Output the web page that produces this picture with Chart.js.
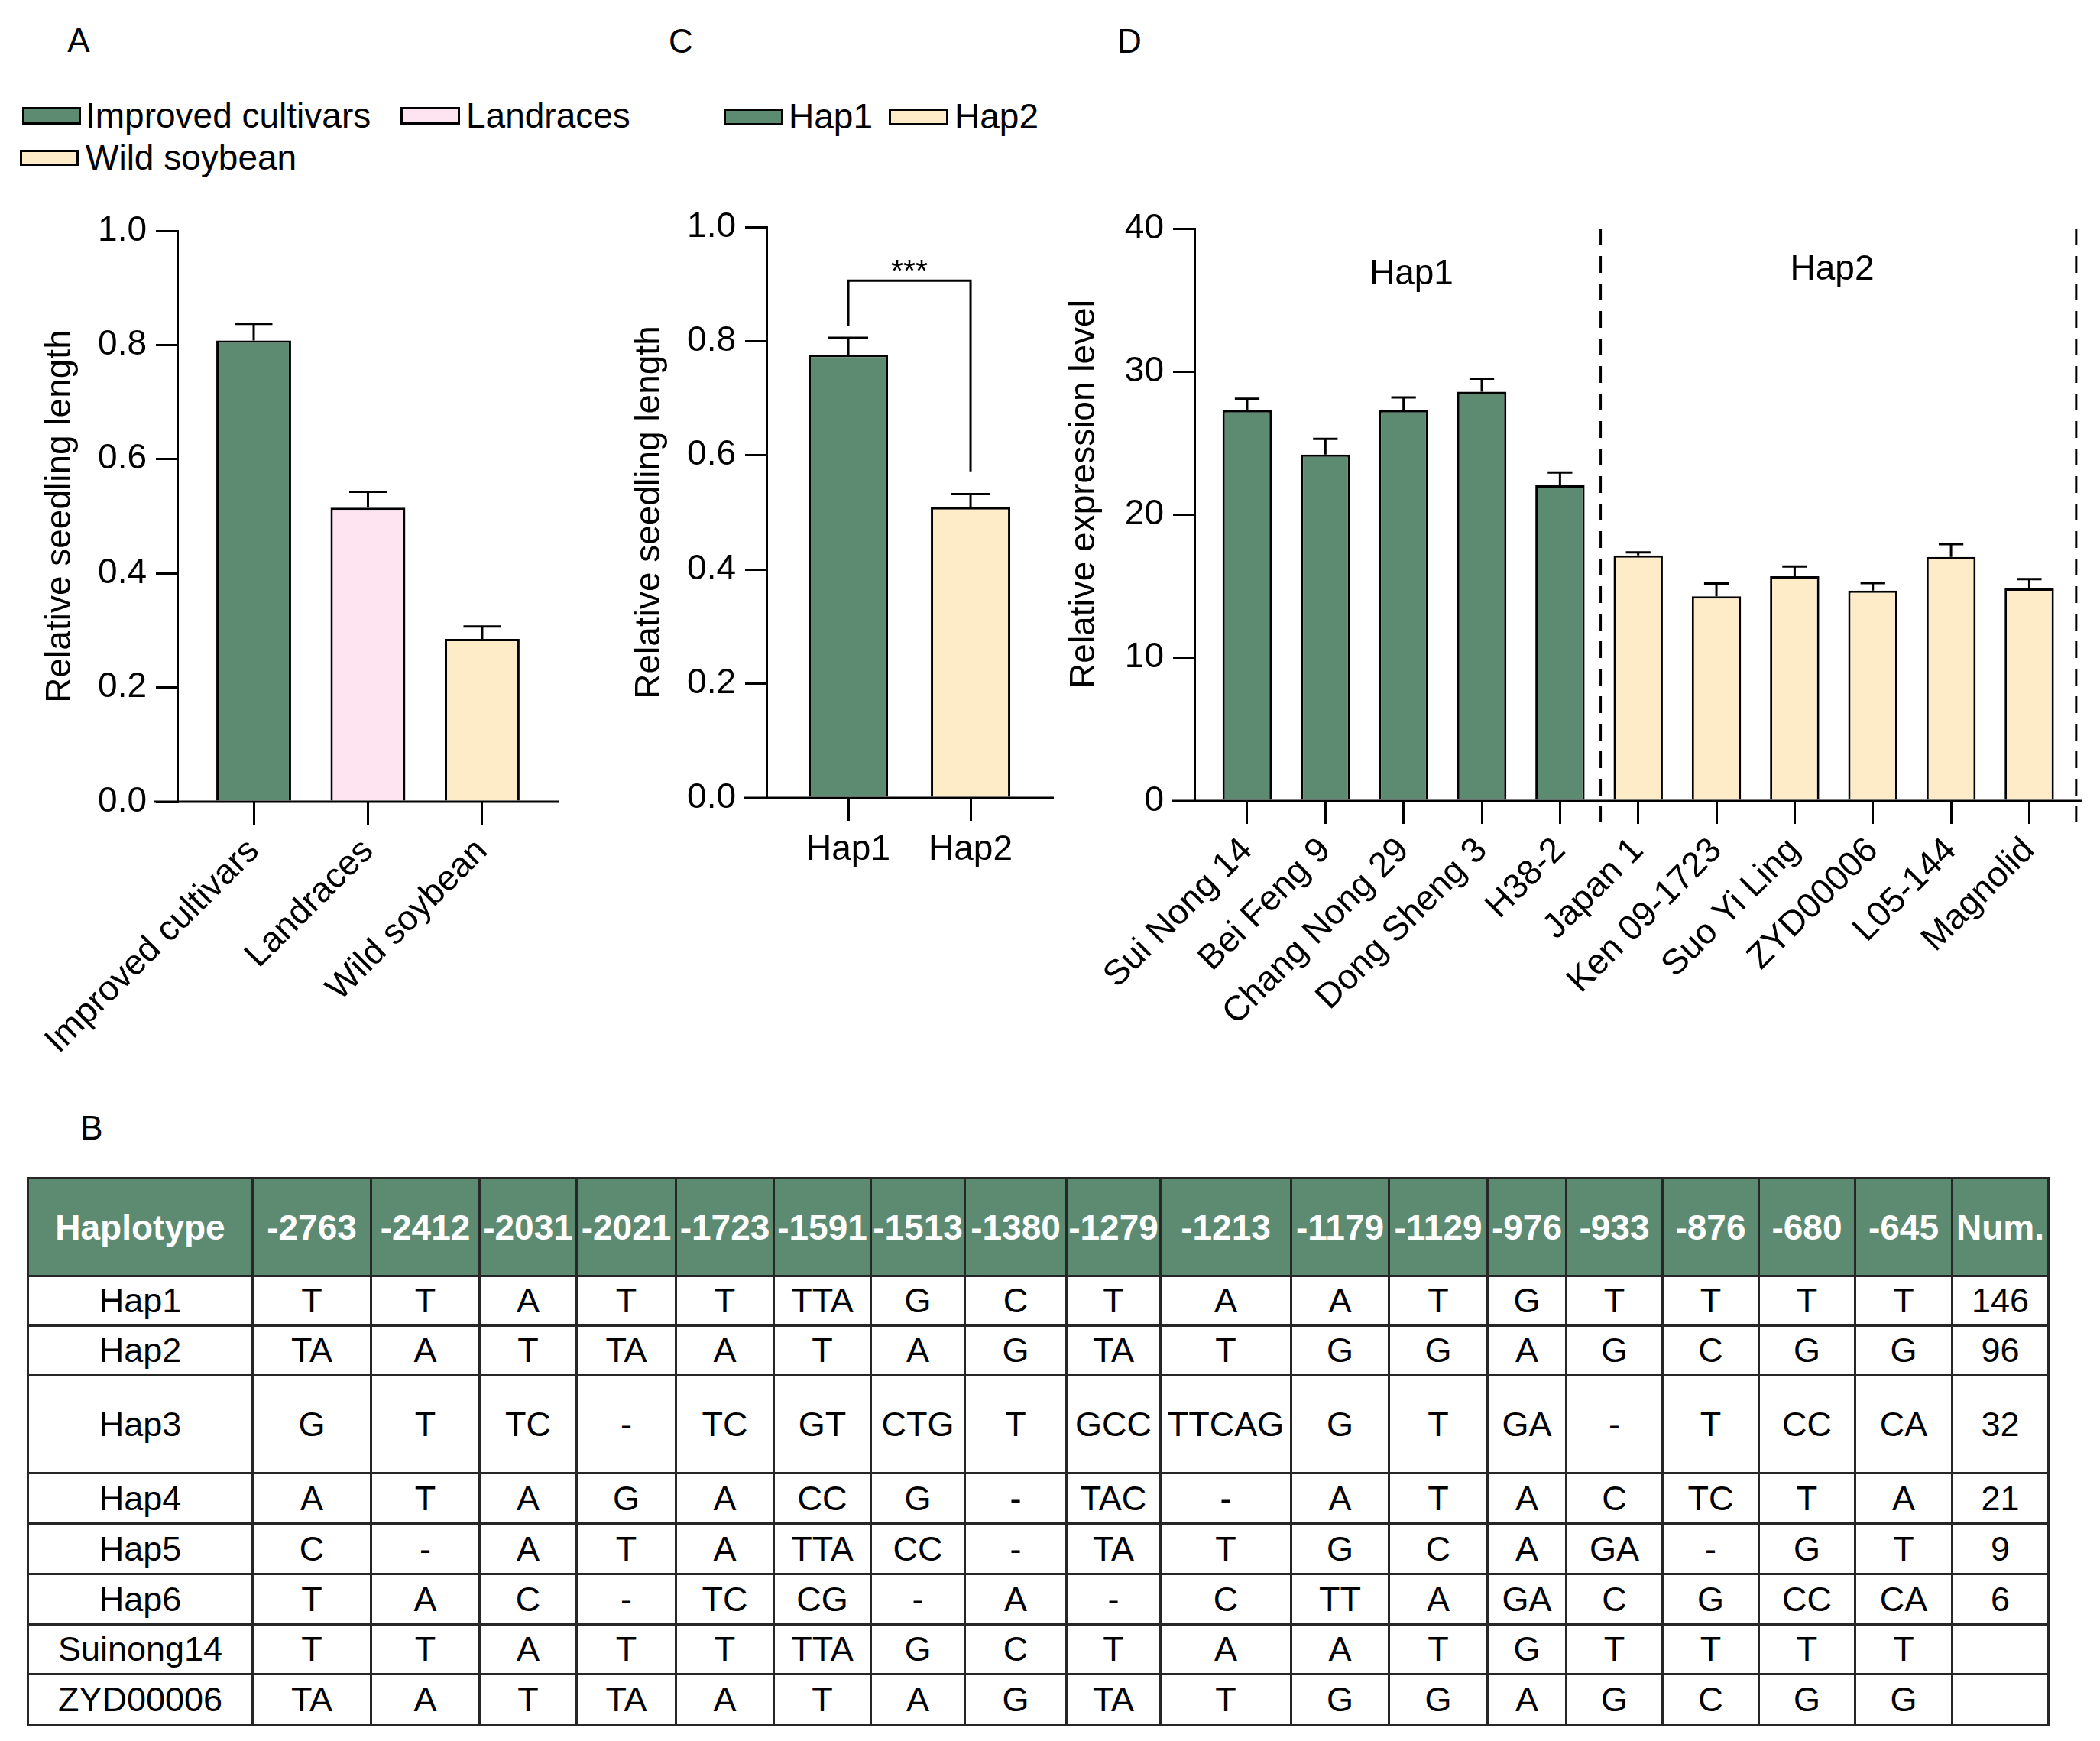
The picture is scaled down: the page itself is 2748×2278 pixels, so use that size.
<!DOCTYPE html>
<html><head><meta charset="utf-8">
<script src="https://cdn.jsdelivr.net/npm/chart.js@4.4.1/dist/chart.umd.min.js"></script>
<style>
html,body{margin:0;padding:0;background:#fff;}
body{width:2748px;height:2278px;position:relative;overflow:hidden;font-family:"Liberation Sans",Arial,sans-serif;color:#000;}
.plabel{position:absolute;font-size:44px;line-height:1;transform:translate(-50%,-50%);}
.sw{position:absolute;box-sizing:border-box;border:3px solid #000;}
.lt{position:absolute;font-size:46px;line-height:1;white-space:nowrap;transform:translateY(-50%);}
canvas{position:absolute;}
#tbl{position:absolute;left:35px;top:1540px;border-collapse:collapse;table-layout:fixed;font-size:45px;}
#tbl td,#tbl th{border:3px solid #262626;text-align:center;vertical-align:middle;padding:0;overflow:hidden;white-space:nowrap;}
#tbl th{background:#5d8b72;color:#fff;font-weight:bold;font-size:46px;}
</style></head>
<body>
<div class="plabel" style="left:103px;top:53px">A</div>
<div class="plabel" style="left:891px;top:54px">C</div>
<div class="plabel" style="left:1478px;top:54px">D</div>
<div class="plabel" style="left:120px;top:1476px">B</div>

<div class="sw" style="left:29px;top:140px;width:77px;height:23px;background:#5d8b72"></div>
<div class="lt" style="left:112px;top:151px">Improved cultivars</div>
<div class="sw" style="left:524px;top:140px;width:78px;height:23px;background:#fde4f0"></div>
<div class="lt" style="left:610px;top:151px">Landraces</div>
<div class="sw" style="left:26px;top:196px;width:77px;height:21px;background:#fdecc7"></div>
<div class="lt" style="left:112px;top:206px">Wild soybean</div>

<div class="sw" style="left:947px;top:142px;width:78px;height:22px;background:#5d8b72"></div>
<div class="lt" style="left:1032px;top:152px">Hap1</div>
<div class="sw" style="left:1163px;top:142px;width:78px;height:22px;background:#fdecc7"></div>
<div class="lt" style="left:1249px;top:152px">Hap2</div>

<canvas id="cA" width="760" height="1200" style="left:0px;top:250px"></canvas>
<canvas id="cC" width="636" height="1205" style="left:771px;top:245px"></canvas>
<canvas id="cD" width="1417" height="1200" style="left:1331px;top:250px"></canvas>

<table id="tbl"></table>

<script>
// ---------- data ----------
const aCategories = ['Improved cultivars', 'Landraces', 'Wild soybean'];
const aValues = [0.808, 0.515, 0.285];
const aErrors = [0.029, 0.028, 0.022];
const aColors = ['#5d8b72', '#fde4f0', '#fdecc7'];

const cCategories = ['Hap1', 'Hap2'];
const cValues = [0.776, 0.509];
const cErrors = [0.030, 0.023];
const cColors = ['#5d8b72', '#fdecc7'];
const cBracket = {left: 0.826, top: 0.906, right: 0.572, star: 0.92, text: '***'};

const dCategories = ['Sui Nong 14', 'Bei Feng 9', 'Chang Nong 29', 'Dong Sheng 3', 'H38-2',
  'Japan 1', 'Ken 09-1723', 'Suo Yi Ling', 'ZYD00006', 'L05-144', 'Magnolid'];
const dValues = [27.3, 24.2, 27.3, 28.6, 22.05, 17.15, 14.3, 15.7, 14.7, 17.05, 14.85];
const dErrors = [0.8, 1.1, 0.9, 0.9, 0.9, 0.22, 0.9, 0.68, 0.52, 0.9, 0.65];
const dGroupOf = ['Hap1', 'Hap1', 'Hap1', 'Hap1', 'Hap1', 'Hap2', 'Hap2', 'Hap2', 'Hap2', 'Hap2', 'Hap2'];
const dGroupColors = {Hap1: '#5d8b72', Hap2: '#fdecc7'};
const dGroupLabels = [{text: 'Hap1', x: 2.1, y: 36.8}, {text: 'Hap2', x: 7.48, y: 37.1}];
const dDividers = [4.52, 10.6];

const tableHeaders = ['Haplotype', '-2763', '-2412', '-2031', '-2021', '-1723', '-1591', '-1513', '-1380', '-1279',
  '-1213', '-1179', '-1129', '-976', '-933', '-876', '-680', '-645', 'Num.'];
const tableRows = [
  ['Hap1', 'T', 'T', 'A', 'T', 'T', 'TTA', 'G', 'C', 'T', 'A', 'A', 'T', 'G', 'T', 'T', 'T', 'T', '146'],
  ['Hap2', 'TA', 'A', 'T', 'TA', 'A', 'T', 'A', 'G', 'TA', 'T', 'G', 'G', 'A', 'G', 'C', 'G', 'G', '96'],
  ['Hap3', 'G', 'T', 'TC', '-', 'TC', 'GT', 'CTG', 'T', 'GCC', 'TTCAG', 'G', 'T', 'GA', '-', 'T', 'CC', 'CA', '32'],
  ['Hap4', 'A', 'T', 'A', 'G', 'A', 'CC', 'G', '-', 'TAC', '-', 'A', 'T', 'A', 'C', 'TC', 'T', 'A', '21'],
  ['Hap5', 'C', '-', 'A', 'T', 'A', 'TTA', 'CC', '-', 'TA', 'T', 'G', 'C', 'A', 'GA', '-', 'G', 'T', '9'],
  ['Hap6', 'T', 'A', 'C', '-', 'TC', 'CG', '-', 'A', '-', 'C', 'TT', 'A', 'GA', 'C', 'G', 'CC', 'CA', '6'],
  ['Suinong14', 'T', 'T', 'A', 'T', 'T', 'TTA', 'G', 'C', 'T', 'A', 'A', 'T', 'G', 'T', 'T', 'T', 'T', ''],
  ['ZYD00006', 'TA', 'A', 'T', 'TA', 'A', 'T', 'A', 'G', 'TA', 'T', 'G', 'G', 'A', 'G', 'C', 'G', 'G', '']
];

// ---------- layout (not data) ----------
const colWidths = [294,155,142,127,130,128,127,123,133,123,171,128,129,103,126,126,126,127,126];
const headerHeight = 128;
const rowHeights = [65,65,128,66,66,66,65,67];

// ---------- table ----------
(function(){
  const t = document.getElementById('tbl');
  let html = '<colgroup>' + colWidths.map(w => '<col style="width:' + w + 'px">').join('') + '</colgroup>';
  html += '<tr style="height:' + headerHeight + 'px">' + tableHeaders.map(h => '<th>' + h + '</th>').join('') + '</tr>';
  tableRows.forEach((r, i) => {
    html += '<tr style="height:' + rowHeights[i] + 'px">' + r.map(c => '<td>' + c + '</td>').join('') + '</tr>';
  });
  t.innerHTML = html;
  t.style.width = colWidths.reduce((a, b) => a + b, 0) + 'px';
})();

// ---------- charts ----------
Chart.defaults.font.family = '"Liberation Sans", Arial, sans-serif';
Chart.defaults.font.size = 46;
Chart.defaults.color = '#000';

const gpPlugin = {
  id: 'gp',
  afterDatasetsDraw(chart, args, opts) {
    const ctx = chart.ctx, xs = chart.scales.x, ys = chart.scales.y, ca = chart.chartArea;
    const meta = chart.getDatasetMeta(0);
    const ds = chart.data.datasets[0].data;
    ctx.save();
    ctx.strokeStyle = '#000';
    ctx.lineWidth = 3;
    ctx.lineCap = 'butt';
    if (opts.dividers) {
      ctx.save();
      ctx.setLineDash([22, 14]);
      opts.dividers.forEach(d => {
        const px = xs.getPixelForValue(d);
        ctx.beginPath(); ctx.moveTo(px, ca.top); ctx.lineTo(px, ca.bottom + 28); ctx.stroke();
      });
      ctx.restore();
    }
    meta.data.forEach((bar, i) => {
      const v = ds[i].y;
      const yTop = ys.getPixelForValue(v);
      const yErr = ys.getPixelForValue(v + opts.errors[i]);
      const half = bar.width / 4;
      ctx.beginPath();
      ctx.moveTo(bar.x, yTop); ctx.lineTo(bar.x, yErr);
      ctx.moveTo(bar.x - half, yErr); ctx.lineTo(bar.x + half, yErr);
      ctx.stroke();
    });
    const y0 = ys.getPixelForValue(0);
    ctx.beginPath(); ctx.moveTo(ca.left - 30, y0); ctx.lineTo(ca.right, y0); ctx.stroke();
    if (opts.bracket) {
      const b = opts.bracket;
      const x0 = xs.getPixelForValue(0), x1 = xs.getPixelForValue(1);
      ctx.beginPath();
      ctx.moveTo(x0, ys.getPixelForValue(b.left));
      ctx.lineTo(x0, ys.getPixelForValue(b.top));
      ctx.lineTo(x1, ys.getPixelForValue(b.top));
      ctx.lineTo(x1, ys.getPixelForValue(b.right));
      ctx.stroke();
      ctx.fillStyle = '#000';
      ctx.font = '41px "Liberation Sans", Arial, sans-serif';
      ctx.textAlign = 'center'; ctx.textBaseline = 'middle';
      ctx.fillText(b.text, (x0 + x1) / 2, ys.getPixelForValue(b.star));
    }
    if (opts.groupLabels) {
      ctx.fillStyle = '#000';
      ctx.font = '46px "Liberation Sans", Arial, sans-serif';
      ctx.textAlign = 'center'; ctx.textBaseline = 'middle';
      opts.groupLabels.forEach(g => ctx.fillText(g.text, xs.getPixelForValue(g.x), ys.getPixelForValue(g.y)));
    }
    // custom-placed y title (when shifted from centre)
    if (opts.yTitle) {
      ctx.fillStyle = '#000';
      ctx.font = '46px "Liberation Sans", Arial, sans-serif';
      ctx.textAlign = 'center'; ctx.textBaseline = 'middle';
      ctx.translate(ys.left + opts.yTitle.pad + 27.6, (ca.top + ca.bottom) / 2 + opts.yTitle.shift);
      ctx.rotate(-Math.PI / 2);
      ctx.fillText(opts.yTitle.text, 0, 0);
    }
    ctx.restore();
  }
};

function makeBarChart(id, o) {
  return new Chart(document.getElementById(id), {
    type: 'bar',
    data: {datasets: [{
      data: o.values.map((v, i) => ({x: i, y: v})),
      backgroundColor: o.colors, borderColor: '#000', borderWidth: 3,
      barPercentage: o.barPct, categoryPercentage: 1
    }]},
    options: {
      responsive: false, animation: false, devicePixelRatio: 1,
      layout: {padding: {top: o.padTop, right: o.padRight, left: 0, bottom: 0}},
      plugins: {legend: {display: false}, tooltip: {enabled: false},
        gp: {errors: o.errors, bracket: o.bracket, groupLabels: o.groupLabels, dividers: o.dividers,
             yTitle: o.titleShift ? {text: o.yTitle, pad: o.titlePad, shift: o.titleShift} : null}},
      scales: {
        x: {
          type: 'linear', bounds: 'data', offset: false, min: o.xMin, max: o.xMax,
          afterBuildTicks: s => { s.ticks = o.categories.map((c, i) => ({value: i})); },
          afterFit: s => { s.height = o.xHeight; },
          ticks: {callback: v => o.categories[v], autoSkip: false, maxRotation: o.rot, minRotation: o.rot,
                  padding: o.xPad, color: '#000', font: {size: 46}},
          grid: {offset: false, drawOnChartArea: false, drawTicks: true, tickLength: 30, color: '#000', lineWidth: 3},
          border: {display: false}
        },
        y: {
          min: 0, max: o.yMax,
          afterFit: s => { s.width = 232; },
          ticks: {stepSize: o.yStep, callback: o.yFmt, padding: 12, color: '#000', font: {size: 46}},
          grid: {drawOnChartArea: false, drawTicks: true, tickLength: 28, color: '#000', lineWidth: 3},
          border: {display: true, color: '#000', width: 3},
          title: {display: !o.titleShift, text: o.yTitle, color: '#000', font: {size: 46}, padding: {top: o.titlePad, bottom: 0}}
        }
      }
    },
    plugins: [gpPlugin]
  });
}

makeBarChart('cA', {
  categories: aCategories, values: aValues, errors: aErrors, colors: aColors,
  barPct: 0.655, padTop: 52, padRight: 28, xMin: -0.669, xMax: 2.676, xHeight: 401,
  rot: 45, xPad: 8, yMax: 1, yStep: 0.2, yFmt: v => v.toFixed(1),
  yTitle: 'Relative seedling length', titlePad: 52
});

makeBarChart('cC', {
  categories: cCategories, values: cValues, errors: cErrors, colors: cColors, bracket: cBracket,
  barPct: 0.65, padTop: 52, padRight: 28, xMin: -0.669, xMax: 1.681, xHeight: 406,
  rot: 0, xPad: 11, yMax: 1, yStep: 0.2, yFmt: v => v.toFixed(1),
  yTitle: 'Relative seedling length', titlePad: 52
});

makeBarChart('cD', {
  categories: dCategories, values: dValues, errors: dErrors,
  colors: dGroupOf.map(g => dGroupColors[g]), groupLabels: dGroupLabels, dividers: dDividers,
  barPct: 0.63, padTop: 49, padRight: 24, xMin: -0.674, xMax: 10.67, xHeight: 402,
  rot: 45, xPad: 8, yMax: 40, yStep: 10, yFmt: v => String(v),
  yTitle: 'Relative expression level', titlePad: 61, titleShift: -27
});
</script>
</body></html>
